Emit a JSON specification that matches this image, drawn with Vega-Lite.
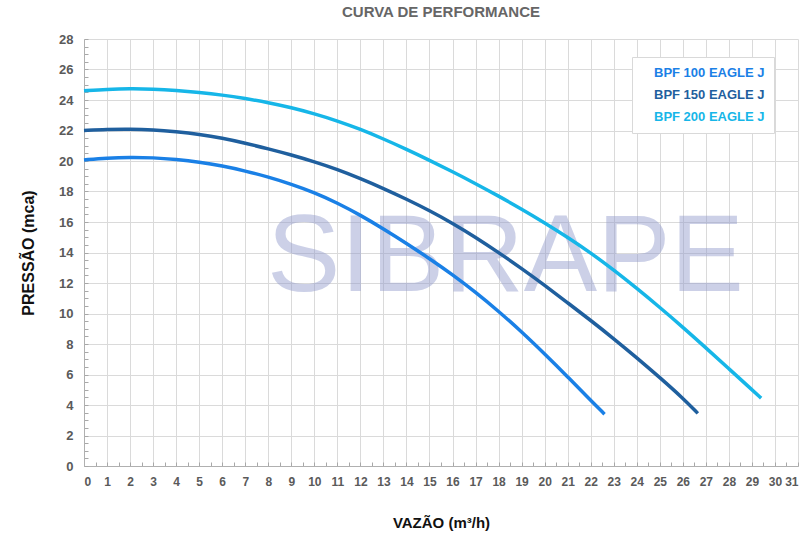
{
  "$schema": "https://vega.github.io/schema/vega-lite/v6.json",
  "autosize": "none",
  "width": 714,
  "height": 427,
  "padding": {"left": 84, "top": 39, "right": 12, "bottom": 69},
  "background": "white",
  "config": {
    "view": {"stroke": null},
    "font": "Liberation Sans",
    "axis": {
      "domainColor": "#b0b0b0",
      "ticks": true,
      "tickColor": "#a8a8a8",
      "tickSize": -4,
      "labelFont": "Liberation Sans",
      "labelFontWeight": "bold",
      "labelColor": "#5a5a5a",
      "titleFont": "Liberation Sans",
      "titleFontWeight": "bold",
      "titleFontSize": 15,
      "titleColor": "#111111",
      "gridWidth": 1
    }
  },
  "title": {
    "text": "CURVA DE PERFORMANCE",
    "font": "Liberation Sans",
    "fontSize": 15,
    "fontWeight": "bold",
    "color": "#666666",
    "anchor": "middle",
    "offset": 13
  },
  "encoding": {
    "x": {
      "field": "q",
      "type": "quantitative",
      "scale": {"domain": [0, 31], "nice": false, "zero": false},
      "axis": {
        "title": "VAZÃO (m³/h)",
        "values": [0,0.5,1,1.5,2,2.5,3,3.5,4,4.5,5,5.5,6,6.5,7,7.5,8,8.5,9,9.5,10,10.5,11,11.5,12,12.5,13,13.5,14,14.5,15,15.5,16,16.5,17,17.5,18,18.5,19,19.5,20,20.5,21,21.5,22,22.5,23,23.5,24,24.5,25,25.5,26,26.5,27,27.5,28,28.5,29,29.5,30,30.5,31],
        "labelExpr": "datum.value % 1 === 0 ? '' + datum.value : ''",
        "labelOverlap": false,
        "labelFontSize": 12,
        "labelPadding": 14,
        "titlePadding": 28,
        "grid": true,
        "gridColor": {"condition": {"test": "datum.value % 1 === 0", "value": "#dadada"}, "value": "rgba(0,0,0,0)"}
      }
    },
    "y": {
      "field": "p",
      "type": "quantitative",
      "scale": {"domain": [0, 28], "nice": false},
      "axis": {
        "title": "PRESSÃO (mca)",
        "values": [0,0.5,1,1.5,2,2.5,3,3.5,4,4.5,5,5.5,6,6.5,7,7.5,8,8.5,9,9.5,10,10.5,11,11.5,12,12.5,13,13.5,14,14.5,15,15.5,16,16.5,17,17.5,18,18.5,19,19.5,20,20.5,21,21.5,22,22.5,23,23.5,24,24.5,25,25.5,26,26.5,27,27.5,28],
        "labelExpr": "datum.value % 2 === 0 ? '' + datum.value : ''",
        "labelOverlap": false,
        "labelFontSize": 13,
        "labelPadding": 15,
        "titlePadding": 22,
        "titleFontSize": 16,
        "grid": true,
        "gridColor": {"condition": {"test": "datum.value % 2 === 0", "value": "#dadada"}, "value": "rgba(0,0,0,0)"}
      }
    }
  },
  "layer": [
    {
      "data": {"values": [{"label": "SIBRAPE", "q": 18.3, "p": 11.5}]},
      "mark": {"type": "text", "font": "Liberation Sans", "fontSize": 110, "color": "#8f99cc", "opacity": 0.45, "align": "center", "baseline": "alphabetic"},
      "encoding": {
        "text": {"field": "label"}
      }
    },
    {
      "data": {"values": [
        {"serie": "BPF 100 EAGLE J", "q": 0, "p": 20.07},
        {"serie": "BPF 100 EAGLE J", "q": 1, "p": 20.2},
        {"serie": "BPF 100 EAGLE J", "q": 2, "p": 20.25},
        {"serie": "BPF 100 EAGLE J", "q": 3, "p": 20.22},
        {"serie": "BPF 100 EAGLE J", "q": 4, "p": 20.1},
        {"serie": "BPF 100 EAGLE J", "q": 5, "p": 19.93},
        {"serie": "BPF 100 EAGLE J", "q": 6, "p": 19.68},
        {"serie": "BPF 100 EAGLE J", "q": 7, "p": 19.35},
        {"serie": "BPF 100 EAGLE J", "q": 8, "p": 18.95},
        {"serie": "BPF 100 EAGLE J", "q": 9, "p": 18.48},
        {"serie": "BPF 100 EAGLE J", "q": 10, "p": 17.93},
        {"serie": "BPF 100 EAGLE J", "q": 11, "p": 17.25},
        {"serie": "BPF 100 EAGLE J", "q": 12, "p": 16.45},
        {"serie": "BPF 100 EAGLE J", "q": 13, "p": 15.55},
        {"serie": "BPF 100 EAGLE J", "q": 14, "p": 14.6},
        {"serie": "BPF 100 EAGLE J", "q": 15, "p": 13.6},
        {"serie": "BPF 100 EAGLE J", "q": 16, "p": 12.55},
        {"serie": "BPF 100 EAGLE J", "q": 17, "p": 11.4},
        {"serie": "BPF 100 EAGLE J", "q": 18, "p": 10.15},
        {"serie": "BPF 100 EAGLE J", "q": 19, "p": 8.8},
        {"serie": "BPF 100 EAGLE J", "q": 20, "p": 7.35},
        {"serie": "BPF 100 EAGLE J", "q": 21, "p": 5.85},
        {"serie": "BPF 100 EAGLE J", "q": 22, "p": 4.3},
        {"serie": "BPF 100 EAGLE J", "q": 22.6, "p": 3.4},
        {"serie": "BPF 150 EAGLE J", "q": 0, "p": 22.0},
        {"serie": "BPF 150 EAGLE J", "q": 1, "p": 22.08},
        {"serie": "BPF 150 EAGLE J", "q": 2, "p": 22.1},
        {"serie": "BPF 150 EAGLE J", "q": 3, "p": 22.05},
        {"serie": "BPF 150 EAGLE J", "q": 4, "p": 21.92},
        {"serie": "BPF 150 EAGLE J", "q": 5, "p": 21.75},
        {"serie": "BPF 150 EAGLE J", "q": 6, "p": 21.5},
        {"serie": "BPF 150 EAGLE J", "q": 7, "p": 21.17},
        {"serie": "BPF 150 EAGLE J", "q": 8, "p": 20.8},
        {"serie": "BPF 150 EAGLE J", "q": 9, "p": 20.4},
        {"serie": "BPF 150 EAGLE J", "q": 10, "p": 19.95},
        {"serie": "BPF 150 EAGLE J", "q": 11, "p": 19.45},
        {"serie": "BPF 150 EAGLE J", "q": 12, "p": 18.85},
        {"serie": "BPF 150 EAGLE J", "q": 13, "p": 18.2},
        {"serie": "BPF 150 EAGLE J", "q": 14, "p": 17.5},
        {"serie": "BPF 150 EAGLE J", "q": 15, "p": 16.75},
        {"serie": "BPF 150 EAGLE J", "q": 16, "p": 15.92},
        {"serie": "BPF 150 EAGLE J", "q": 17, "p": 15.0},
        {"serie": "BPF 150 EAGLE J", "q": 18, "p": 14.0},
        {"serie": "BPF 150 EAGLE J", "q": 19, "p": 12.95},
        {"serie": "BPF 150 EAGLE J", "q": 20, "p": 11.85},
        {"serie": "BPF 150 EAGLE J", "q": 21, "p": 10.7},
        {"serie": "BPF 150 EAGLE J", "q": 22, "p": 9.55},
        {"serie": "BPF 150 EAGLE J", "q": 23, "p": 8.35},
        {"serie": "BPF 150 EAGLE J", "q": 24, "p": 7.1},
        {"serie": "BPF 150 EAGLE J", "q": 25, "p": 5.8},
        {"serie": "BPF 150 EAGLE J", "q": 26, "p": 4.45},
        {"serie": "BPF 150 EAGLE J", "q": 26.65, "p": 3.45},
        {"serie": "BPF 200 EAGLE J", "q": 0, "p": 24.6},
        {"serie": "BPF 200 EAGLE J", "q": 1, "p": 24.7},
        {"serie": "BPF 200 EAGLE J", "q": 2, "p": 24.75},
        {"serie": "BPF 200 EAGLE J", "q": 3, "p": 24.72},
        {"serie": "BPF 200 EAGLE J", "q": 4, "p": 24.63},
        {"serie": "BPF 200 EAGLE J", "q": 5, "p": 24.5},
        {"serie": "BPF 200 EAGLE J", "q": 6, "p": 24.33},
        {"serie": "BPF 200 EAGLE J", "q": 7, "p": 24.1},
        {"serie": "BPF 200 EAGLE J", "q": 8, "p": 23.83},
        {"serie": "BPF 200 EAGLE J", "q": 9, "p": 23.5},
        {"serie": "BPF 200 EAGLE J", "q": 10, "p": 23.1},
        {"serie": "BPF 200 EAGLE J", "q": 11, "p": 22.63},
        {"serie": "BPF 200 EAGLE J", "q": 12, "p": 22.08},
        {"serie": "BPF 200 EAGLE J", "q": 13, "p": 21.45},
        {"serie": "BPF 200 EAGLE J", "q": 14, "p": 20.77},
        {"serie": "BPF 200 EAGLE J", "q": 15, "p": 20.05},
        {"serie": "BPF 200 EAGLE J", "q": 16, "p": 19.3},
        {"serie": "BPF 200 EAGLE J", "q": 17, "p": 18.52},
        {"serie": "BPF 200 EAGLE J", "q": 18, "p": 17.7},
        {"serie": "BPF 200 EAGLE J", "q": 19, "p": 16.85},
        {"serie": "BPF 200 EAGLE J", "q": 20, "p": 15.95},
        {"serie": "BPF 200 EAGLE J", "q": 21, "p": 15.0},
        {"serie": "BPF 200 EAGLE J", "q": 22, "p": 13.98},
        {"serie": "BPF 200 EAGLE J", "q": 23, "p": 12.85},
        {"serie": "BPF 200 EAGLE J", "q": 24, "p": 11.65},
        {"serie": "BPF 200 EAGLE J", "q": 25, "p": 10.4},
        {"serie": "BPF 200 EAGLE J", "q": 26, "p": 9.1},
        {"serie": "BPF 200 EAGLE J", "q": 27, "p": 7.75},
        {"serie": "BPF 200 EAGLE J", "q": 28, "p": 6.38},
        {"serie": "BPF 200 EAGLE J", "q": 29, "p": 5.0},
        {"serie": "BPF 200 EAGLE J", "q": 29.4, "p": 4.45}
      ]},
      "mark": {"type": "line", "interpolate": "basis", "strokeWidth": 3.5, "strokeCap": "butt"},
      "encoding": {
        "color": {
          "field": "serie",
          "type": "nominal",
          "scale": {"domain": ["BPF 100 EAGLE J", "BPF 150 EAGLE J", "BPF 200 EAGLE J"], "range": ["#1a80e6", "#1f5f9e", "#16b6e8"]},
          "legend": {
            "title": null,
            "orient": "none",
            "legendX": 548,
            "legendY": 18,
            "padding": 9,
            "fillColor": "white",
            "strokeColor": "#d9d9d9",
            "symbolSize": 0,
            "symbolOpacity": 0,
            "labelOffset": 0,
            "labelFont": "Liberation Sans",
            "labelFontSize": 13,
            "labelFontWeight": "bold",
            "labelLimit": 300,
            "rowPadding": 8,
            "encode": {"labels": {"update": {"fill": {"scale": "color", "field": "value"}}}}
          }
        }
      }
    }
  ]
}
